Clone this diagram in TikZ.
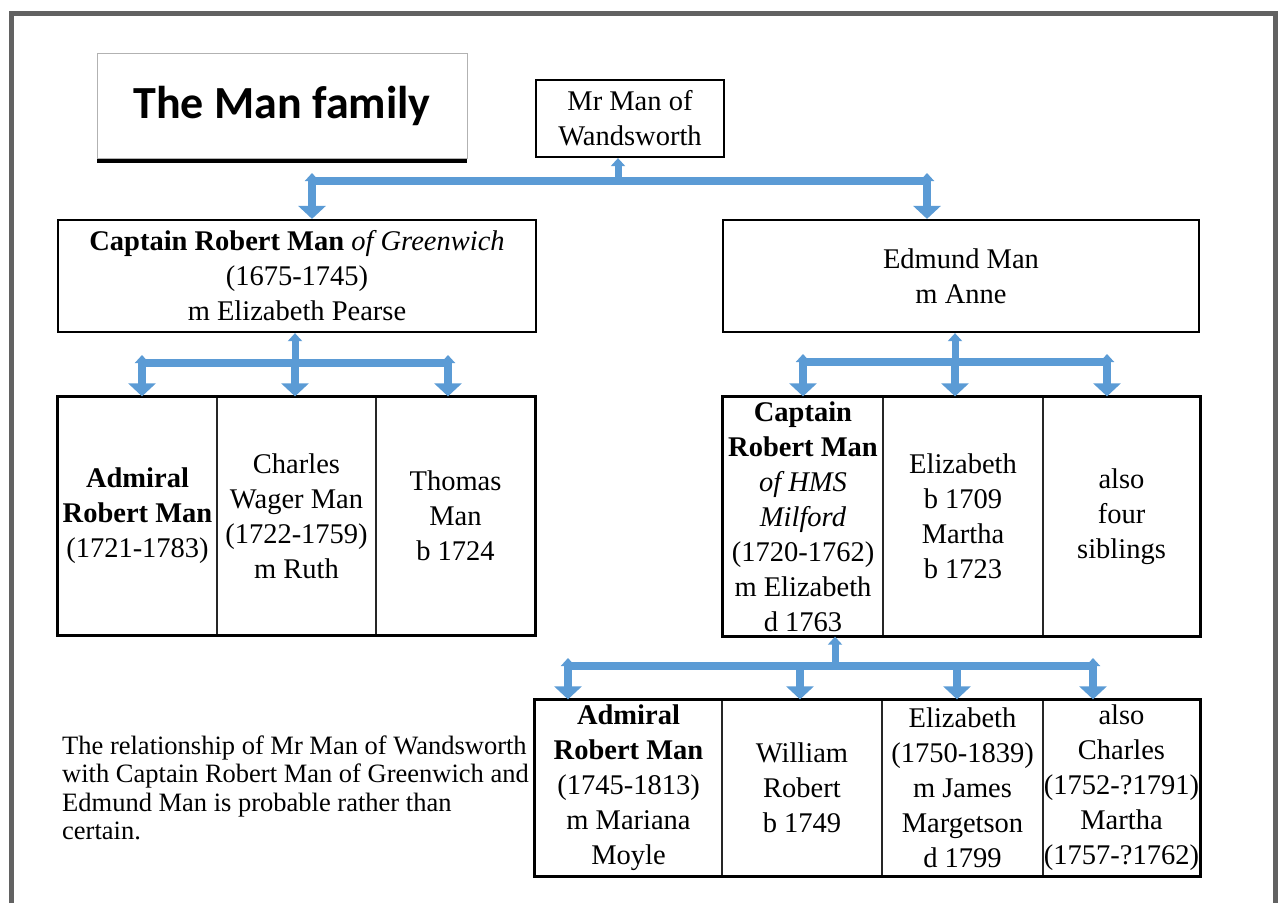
\documentclass[tikz,border=0pt]{standalone}
\usepackage{fontspec}
\setmainfont{Liberation Serif}
\newfontfamily\headfont{Carlito}
\usepackage{tikz}
\usetikzlibrary{arrows.meta}
\usetikzlibrary{shadows}
\definecolor{linkblue}{RGB}{91,155,213}
\definecolor{framegray}{RGB}{98,98,98}

\begin{document}
\begin{tikzpicture}%
	[x=1pt, y=-1pt,
	frame/.style={draw=framegray, line width=5pt},
	titlebox/.style={draw=black!30, line width=0.8pt, fill=white, inner sep=0pt, minimum width=370pt, minimum height=105pt, font=\headfont\bfseries\fontsize{46}{50}\selectfont, drop shadow={shadow xshift=0pt, shadow yshift=-5pt, opacity=1, fill=black}},
	box/.style={draw=black, line width=2.2pt, inner sep=0pt, align=center, font=\fontsize{28.5}{35}\selectfont},
	cell/.style={draw=black!85, line width=1.3pt, inner sep=0pt, align=center, font=\fontsize{28.5}{35}\selectfont},
	rowline/.style={draw=black, line width=2.4pt},
	note/.style={inner sep=0pt, align=left, font=\fontsize{26.5}{28.5}\selectfont},
	bar/.style={draw=linkblue, line width=8pt, line cap=rect},
	rise/.style={draw=linkblue, line width=7pt, -{Triangle[width=14pt,length=8pt]}},
	drop/.style={draw=linkblue, line width=8pt, -{Triangle[width=27pt,length=13pt]}},
	corner/.style={{Triangle[width=14pt,length=8pt]}-{Triangle[width=27pt,length=13pt]}}]
%
\useasboundingbox (0,0) rectangle (1280,903);
\draw[frame] (11,903) -- (11,13) -- (1275,13) -- (1275,903);
%%
%% Title and first generations
%%
\node[titlebox] (title) at (282,105.5) {The Man family};
\node[box, minimum width=188pt, minimum height=77pt] (mr) at (630,118.5) {Mr Man of\\Wandsworth};
\node[box, minimum width=478pt, minimum height=112pt] (grn) at (297,276)
	{\textbf{Captain Robert Man} \textit{of Greenwich}\\(1675-1745)\\m Elizabeth Pearse};
\node[box, minimum width=476pt, minimum height=112pt] (edm) at (961,276) {Edmund Man\\m Anne};
%%
%% Children of Captain Robert Man of Greenwich
%%
\node[cell, minimum width=159pt, minimum height=238pt] (ga) at (137.5,516) {\textbf{Admiral}\\\textbf{Robert Man}\\(1721-1783)};
\node[cell, minimum width=159pt, minimum height=238pt] (gb) at (296.5,516) {Charles\\Wager Man\\(1722-1759)\\m Ruth};
\node[cell, minimum width=159pt, minimum height=238pt] (gc) at (455.5,516) {Thomas\\Man\\b 1724};
\draw[rowline] (ga.north west) rectangle (gc.south east);
%%
%% Children of Edmund Man
%%
\node[cell, minimum width=160pt, minimum height=239pt] (ea) at (803,516.5)
	{\textbf{Captain}\\\textbf{Robert Man}\\\textit{of HMS}\\\textit{Milford}\\(1720-1762)\\m Elizabeth\\d 1763};
\node[cell, minimum width=160pt, minimum height=239pt] (eb) at (963,516.5) {Elizabeth\\b 1709\\Martha\\b 1723};
\node[cell, minimum width=157pt, minimum height=239pt] (ec) at (1121.5,516.5) {also\\four\\siblings};
\draw[rowline] (ea.north west) rectangle (ec.south east);
%%
%% Children of Captain Robert Man of HMS Milford
%%
\node[cell, minimum width=187pt, minimum height=176pt] (ma) at (628.5,788)
	{\textbf{Admiral}\\\textbf{Robert Man}\\(1745-1813)\\m Mariana\\Moyle};
\node[cell, minimum width=160pt, minimum height=176pt] (mb) at (802,788) {William\\Robert\\b 1749};
\node[cell, minimum width=161pt, minimum height=176pt] (mc) at (962.5,788) {Elizabeth\\(1750-1839)\\m James\\Margetson\\d 1799};
\node[cell, minimum width=157pt, minimum height=176pt] (md) at (1121.5,788) {also\\Charles\\(1752-?1791)\\Martha\\(1757-?1762)};
\draw[rowline] (ma.north west) rectangle (md.south east);
%%
\node[note, anchor=west] (note) at (62,788)
	{The relationship of Mr Man of Wandsworth\\with Captain Robert Man of Greenwich and\\Edmund Man is probable rather than\\certain.};
%%
%% Junctions of the connectors
%%
\coordinate (j0) at (618,181);
\coordinate (j0l) at (312,181);
\coordinate (j0r) at (927,181);
\coordinate (j1) at (295,363);
\coordinate (j1l) at (142,363);
\coordinate (j1r) at (448,363);
\coordinate (j2) at (955,362);
\coordinate (j2l) at (803,362);
\coordinate (j2r) at (1107,362);
\coordinate (j3) at (835,666);
\coordinate (j3l) at (568,666);
\coordinate (j3r) at (1093,666);
\coordinate (j3b) at (800,666);
\coordinate (j3c) at (957,666);
%%
%% Drawing connectors
%%
\draw[bar] (j0l) -- (j0r);
\draw[rise] (j0) -- (j0 |- mr.south);
\draw[drop, corner] ([yshift=8pt]j0l) -- (j0l |- grn.north);
\draw[drop, corner] ([yshift=8pt]j0r) -- (j0r |- edm.north);
%
\draw[bar] (j1l) -- (j1r);
\draw[rise] (j1) -- (j1 |- grn.south);
\draw[drop, corner] ([yshift=8pt]j1l) -- (j1l |- ga.north);
\draw[drop] (j1) -- (j1 |- gb.north);
\draw[drop, corner] ([yshift=8pt]j1r) -- (j1r |- gc.north);
%
\draw[bar] (j2l) -- (j2r);
\draw[rise] (j2) -- (j2 |- edm.south);
\draw[drop, corner] ([yshift=8pt]j2l) -- (j2l |- ea.north);
\draw[drop] (j2) -- (j2 |- eb.north);
\draw[drop, corner] ([yshift=8pt]j2r) -- (j2r |- ec.north);
%
\draw[bar] (j3l) -- (j3r);
\draw[rise] (j3) -- (j3 |- ea.south);
\draw[drop, corner] ([yshift=8pt]j3l) -- (j3l |- ma.north);
\draw[drop] (j3b) -- (j3b |- mb.north);
\draw[drop] (j3c) -- (j3c |- mc.north);
\draw[drop, corner] ([yshift=8pt]j3r) -- (j3r |- md.north);
%%
\end{tikzpicture}
\end{document}
